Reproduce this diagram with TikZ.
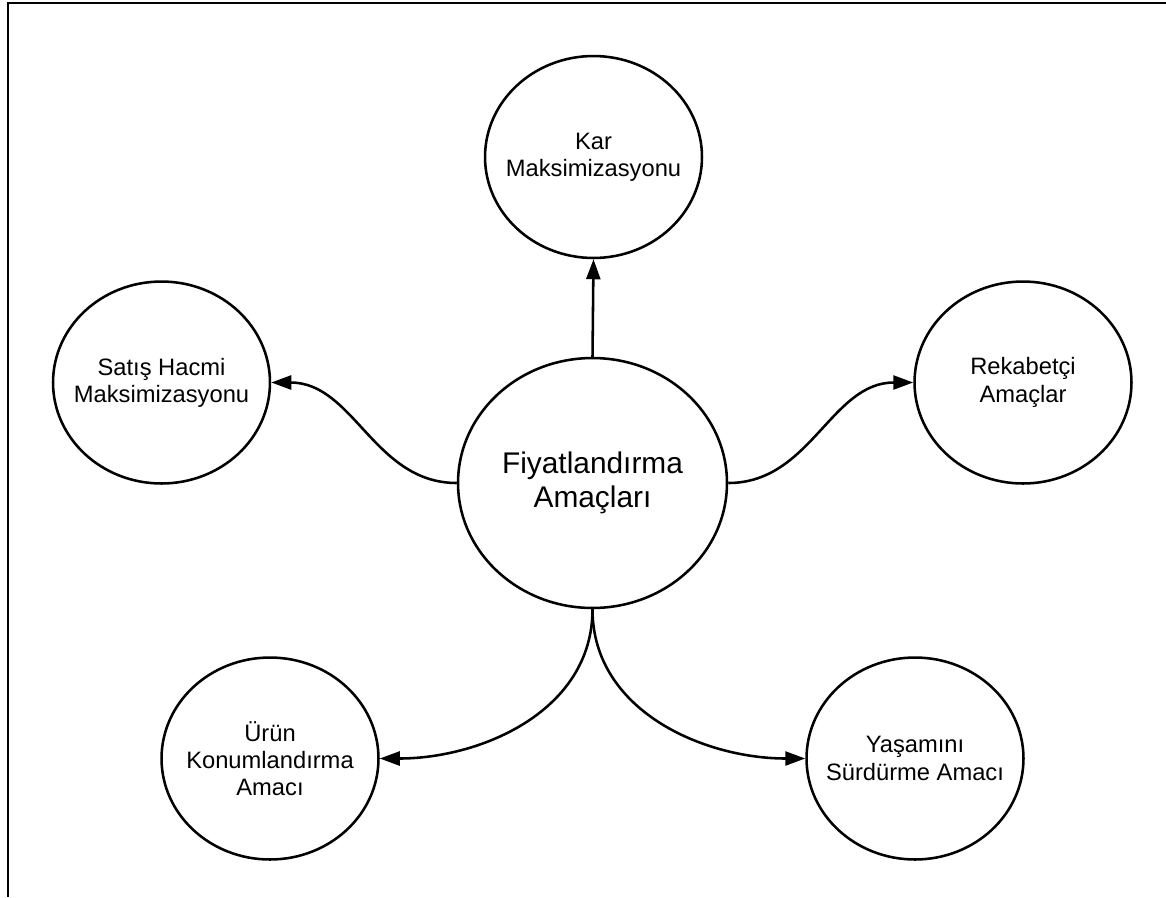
\documentclass[tikz,border=0pt]{standalone}
\usepackage{fontspec}
\setmainfont{Liberation Sans}
\usetikzlibrary{arrows.meta,shapes.geometric}

\begin{document}
\begin{tikzpicture}[
    x=0.02cm, y=0.02cm,
    goal/.style={ellipse, draw, line width=1.45pt, minimum width=4.34cm, minimum height=4.04cm, inner sep=0pt},
    core/.style={goal, minimum width=5.38cm, minimum height=5cm},
    link/.style={line width=1.45pt, -{Triangle[length=0.4cm, width=0.28cm]}},
    every label/.style={align=center, font=\fontsize{13.5}{15.5}\selectfont}
  ]
    \useasboundingbox (0,0) rectangle (1166,-897);
    \draw[line width=1.6pt] (8,-897) -- (8,-3) -- (1166,-3);
    \node[core, label={[font=\fontsize{17}{19.5}\selectfont]center:Fiyatlandırma\\Amaçları}] (fiy) at (592.5,-483) {};
    \node[goal, label={center:Kar\\Maksimizasyonu}] (kar) at (593.5,-157) {};
    \node[goal, label={center:Satış Hacmi\\Maksimizasyonu}] (sat) at (161.5,-382.5) {};
    \node[goal, label={center:Rekabetçi\\Amaçlar}] (rek) at (1023,-382.5) {};
    \node[goal, label={center:Ürün\\Konumlandırma\\Amacı}] (uru) at (270,-758.5) {};
    \node[goal, label={center:Yaşamını\\Sürdürme Amacı}] (yas) at (915,-758.5) {};
    \draw[link] (fiy.north) -- (kar.south);
    \draw[link] (fiy.west) to[out=180, in=0] (sat.east);
    \draw[link] (fiy.east) to[out=0, in=180] (rek.west);
    \draw[link] (fiy.south) to[out=-90, in=0] (uru.east);
    \draw[link] (fiy.south) to[out=-90, in=180] (yas.west);
\end{tikzpicture}
\end{document}
